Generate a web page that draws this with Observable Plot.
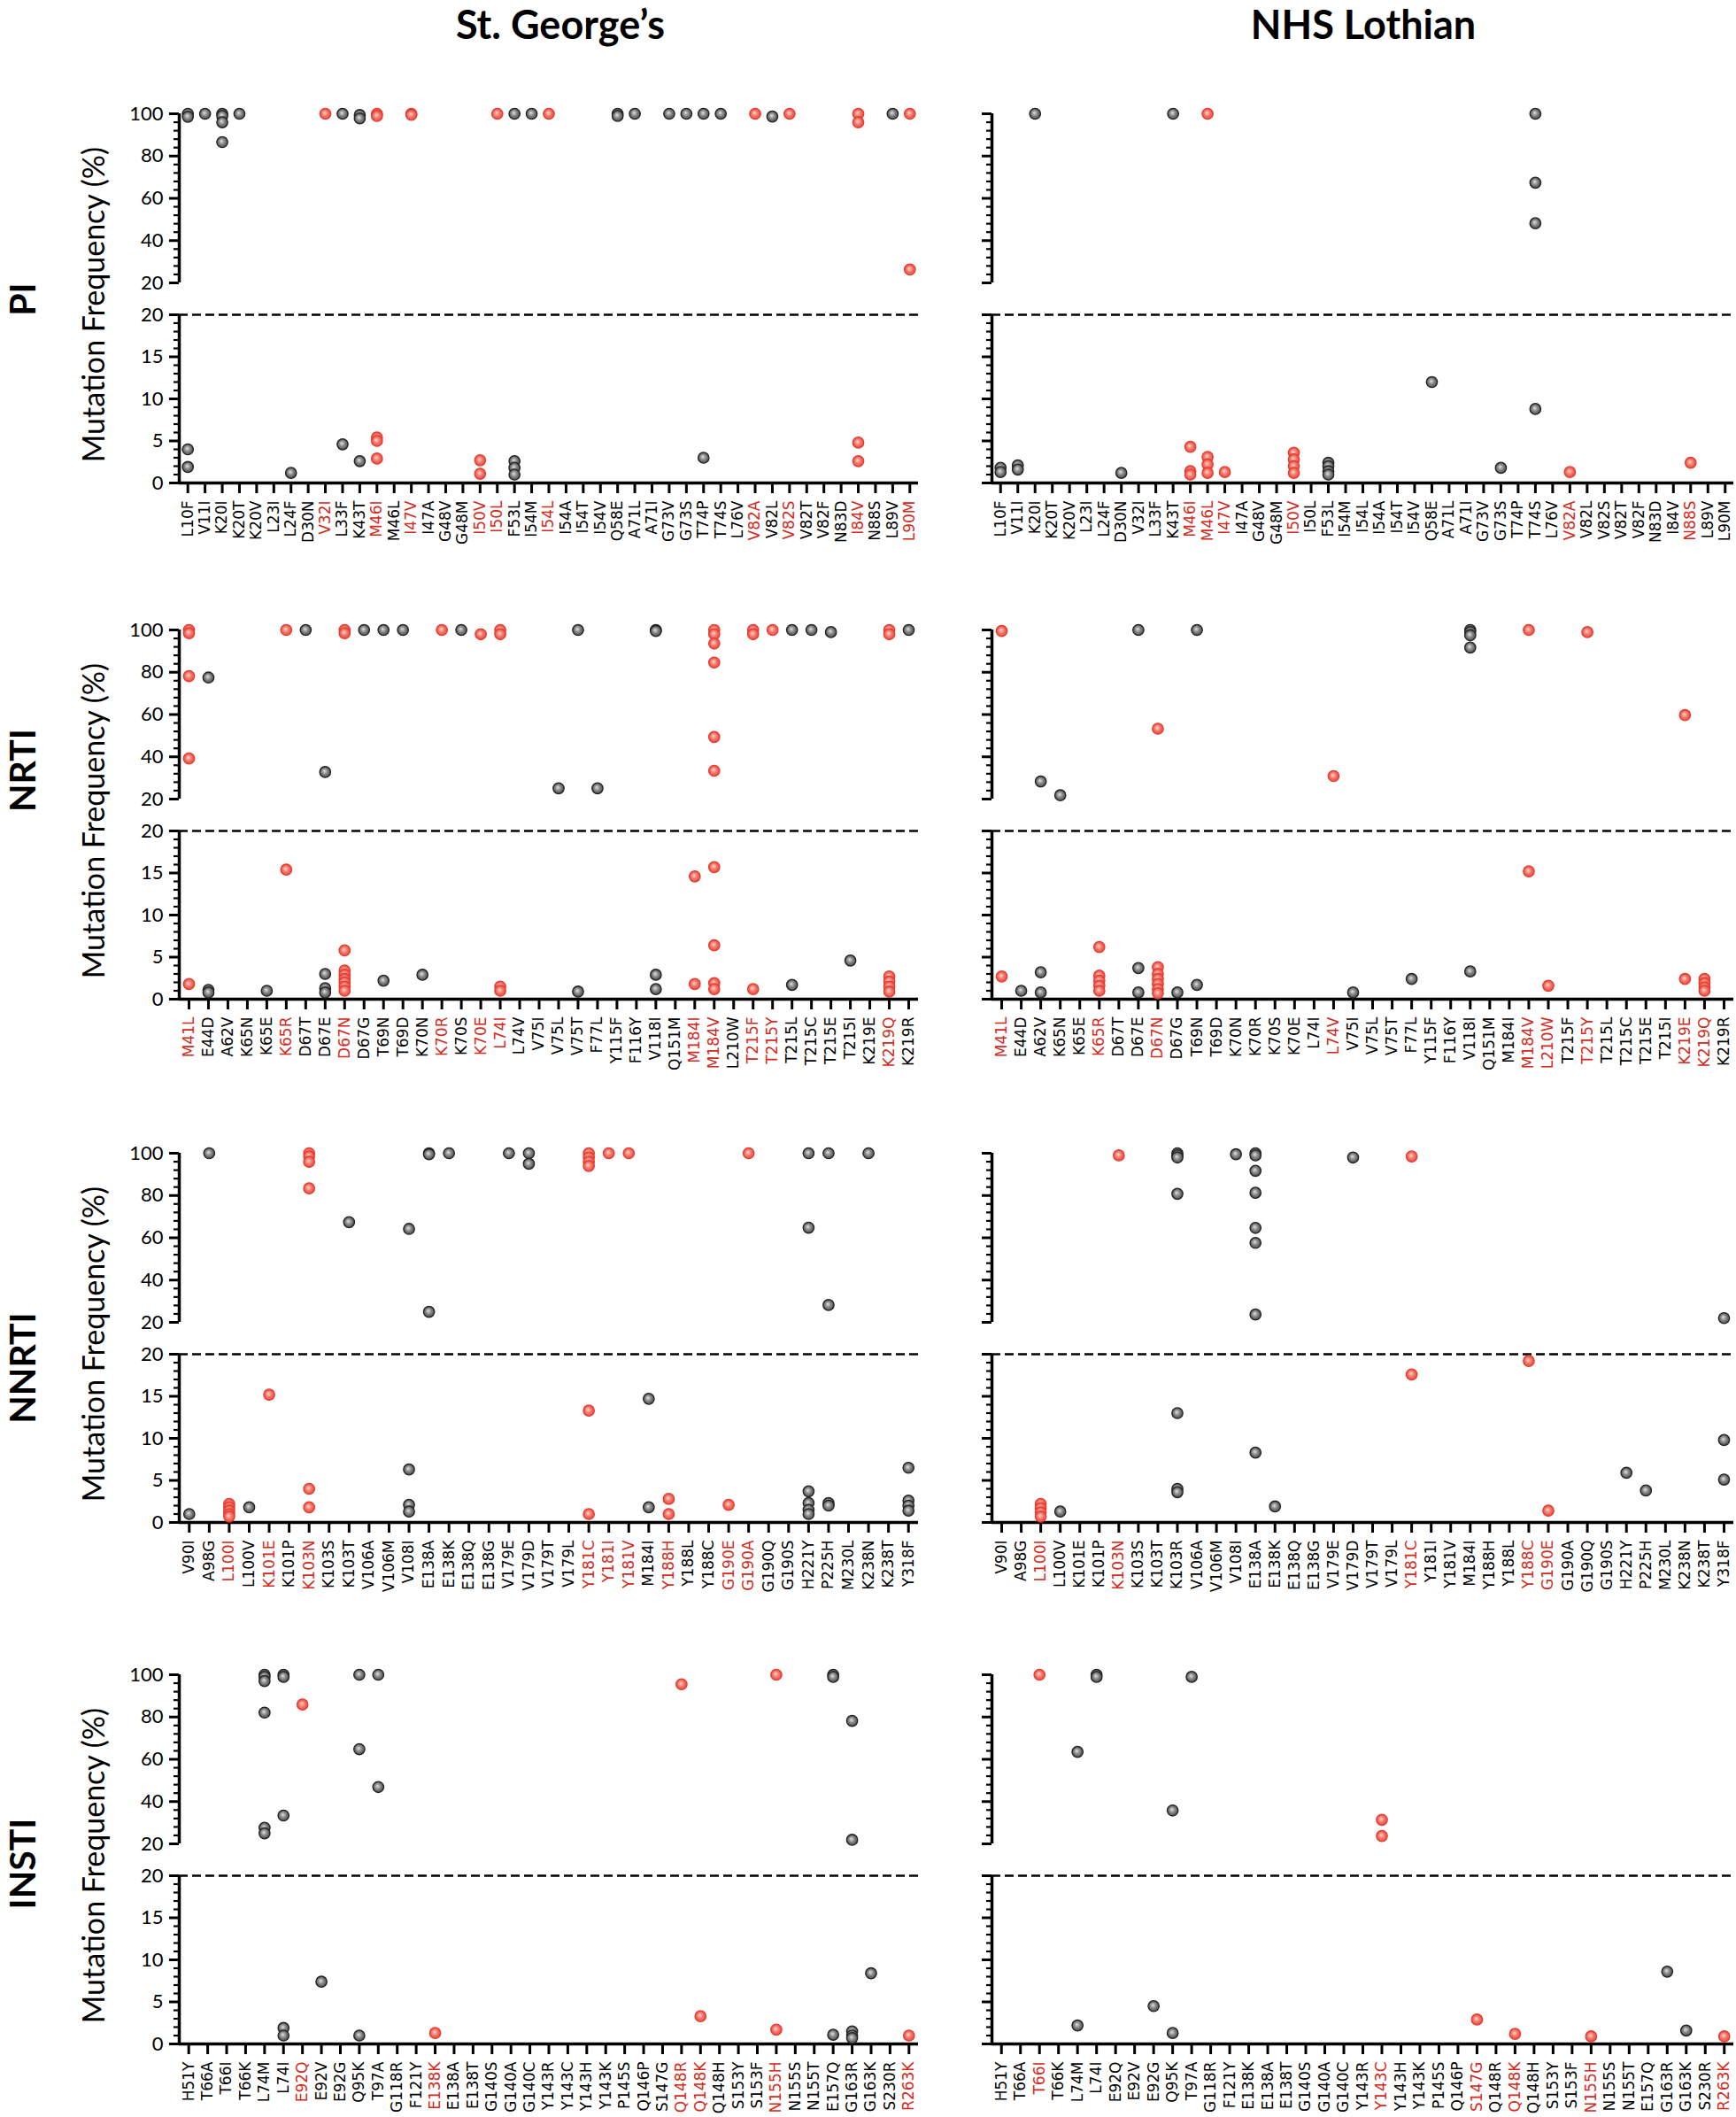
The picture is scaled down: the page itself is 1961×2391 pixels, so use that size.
<!DOCTYPE html>
<html>
<head>
<meta charset="utf-8">
<script src="https://cdn.jsdelivr.net/npm/d3@7"></script>
<script src="https://cdn.jsdelivr.net/npm/@observablehq/plot@0.6"></script>
<style>
  html, body { margin: 0; padding: 0; background: #fff; }
  #page { position: relative; width: 1961px; height: 2391px; background: #fff; overflow: hidden; }
  .panel { position: absolute; }
  #overlay { position: absolute; left: 0; top: 0; }
</style>
</head>
<body>
<div id="page">
  <svg width="0" height="0" style="position:absolute">
    <defs>
      <radialGradient id="gGray" cx="50%" cy="50%" r="55%" fx="42%" fy="40%">
        <stop offset="0%" stop-color="#e2e2e2"/>
        <stop offset="45%" stop-color="#8c8c8c"/>
        <stop offset="100%" stop-color="#3c3c3c"/>
      </radialGradient>
      <radialGradient id="gRed" cx="50%" cy="50%" r="55%" fx="42%" fy="40%">
        <stop offset="0%" stop-color="#ffd6cf"/>
        <stop offset="50%" stop-color="#f3766a"/>
        <stop offset="100%" stop-color="#e4473b"/>
      </radialGradient>
    </defs>
  </svg>
  <svg id="overlay" width="1961" height="2391"></svg>
</div>
<script>
// ---------------- data ----------------
const sites = ["St. George’s", "NHS Lothian"];
const classes = ["PI", "NRTI", "NNRTI", "INSTI"];
const yAxisTitle = "Mutation Frequency (%)";

const upperMajorTicks = [20, 40, 60, 80, 100];
const lowerMajorTicks = [0, 5, 10, 15, 20];
const breakValue = 20;

// ---- PI ----
const piCats = ["L10F","V11I","K20I","K20T","K20V","L23I","L24F","D30N","V32I","L33F","K43T","M46I","M46L","I47V","I47A","G48V","G48M","I50V","I50L","F53L","I54M","I54L","I54A","I54T","I54V","Q58E","A71L","A71I","G73V","G73S","T74P","T74S","L76V","V82A","V82L","V82S","V82T","V82F","N83D","I84V","N88S","L89V","L90M"];
const piRedStG = ["V32I","M46I","I47V","I50V","I50L","I54L","V82A","V82S","I84V","L90M"];
const piRedLoth = ["M46I","M46L","I47V","I50V","V82A","N88S"];
const piStG = [
  ["L10F",[100,98.6,4.0,1.9]], ["V11I",[100]], ["K20I",[100,99,96,86.6]], ["K20T",[100]],
  ["L24F",[1.2]], ["V32I",[100]], ["L33F",[100,4.6]], ["K43T",[99.4,97.8,2.6]],
  ["M46I",[100,99,5.4,5.0,2.9]], ["I47V",[100,99.5]], ["I50V",[2.7,1.1]], ["I50L",[100]],
  ["F53L",[100,2.6,1.8,1.0]], ["I54M",[100]], ["I54L",[100]], ["Q58E",[100,99]],
  ["A71L",[100]], ["G73V",[100]], ["G73S",[100]], ["T74P",[100,3.0]], ["T74S",[100]],
  ["V82A",[100]], ["V82L",[98.7]], ["V82S",[100]], ["I84V",[100,96,4.8,2.6]],
  ["L89V",[100]], ["L90M",[100,26.3]]
];
const piLoth = [
  ["L10F",[1.8,1.3]], ["V11I",[2.1,1.6]], ["K20I",[100]], ["D30N",[1.2]], ["K43T",[100]],
  ["M46I",[4.3,1.4,1.0]], ["M46L",[100,3.1,2.2,1.2]], ["I47V",[1.3]],
  ["I50V",[3.6,2.8,2.0,1.2]], ["F53L",[2.4,2.0,1.4,1.0]], ["Q58E",[12.0]],
  ["G73S",[1.8]], ["T74S",[100,67.4,48.2,8.8]], ["V82A",[1.3]], ["N88S",[2.4]]
];

// ---- NRTI ----
const nrtiCats = ["M41L","E44D","A62V","K65N","K65E","K65R","D67T","D67E","D67N","D67G","T69N","T69D","K70N","K70R","K70S","K70E","L74I","L74V","V75I","V75L","V75T","F77L","Y115F","F116Y","V118I","Q151M","M184I","M184V","L210W","T215F","T215Y","T215L","T215C","T215E","T215I","K219E","K219Q","K219R"];
const nrtiRedStG = ["M41L","K65R","D67N","K70R","K70E","L74I","M184I","M184V","T215F","T215Y","K219Q"];
const nrtiRedLoth = ["M41L","K65R","D67N","L74V","M184V","L210W","T215Y","K219E","K219Q"];
const nrtiStG = [
  ["M41L",[100,98.5,78.2,39.2,1.8]], ["E44D",[77.5,1.1,0.8]], ["K65E",[1.0]], ["K65R",[100,15.4]],
  ["D67T",[100]], ["D67E",[32.8,3.0,1.3,0.8]], ["D67N",[100,98.5,5.8,3.4,2.9,2.4,2.0,1.5,1.0]],
  ["D67G",[100]], ["T69N",[100,2.2]], ["T69D",[100]], ["K70N",[2.9]], ["K70R",[100]],
  ["K70S",[100]], ["K70E",[98]], ["L74I",[100,98,1.5,1.0]], ["V75L",[25.1]], ["V75T",[100,0.9]],
  ["F77L",[25.1]], ["V118I",[100,99.5,2.9,1.2]], ["M184I",[14.6,1.8]],
  ["M184V",[100,98,93.6,84.6,49.4,33.4,15.7,6.4,1.9,1.2]], ["T215F",[100,98,1.2]],
  ["T215Y",[100]], ["T215L",[100,1.7]], ["T215C",[100]], ["T215E",[99]], ["T215I",[4.6]],
  ["K219Q",[100,98,2.7,2.1,1.5,0.9]], ["K219R",[100]]
];
const nrtiLoth = [
  ["M41L",[99.5,2.7]], ["E44D",[1.0]], ["A62V",[28.3,3.2,0.8]], ["K65N",[21.8]],
  ["K65R",[6.2,2.8,2.2,1.6,1.0]], ["D67E",[100,3.7,0.8]], ["D67N",[53.3,3.8,3.0,2.4,1.8,1.2,0.7]],
  ["D67G",[0.8]], ["T69N",[100,1.7]], ["L74V",[30.9]], ["V75I",[0.8]], ["F77L",[2.4]],
  ["V118I",[100,99,97.5,91.7,3.3]], ["M184V",[100,15.2]], ["L210W",[1.6]], ["T215Y",[99]],
  ["K219E",[59.7,2.4]], ["K219Q",[2.4,1.9,1.4,1.0]]
];

// ---- NNRTI ----
const nnrtiCatsStG = ["V90I","A98G","L100I","L100V","K101E","K101P","K103N","K103S","K103T","V106A","V106M","V108I","E138A","E138K","E138Q","E138G","V179E","V179D","V179T","V179L","Y181C","Y181I","Y181V","M184I","Y188H","Y188L","Y188C","G190E","G190A","G190Q","G190S","H221Y","P225H","M230L","K238N","K238T","Y318F"];
const nnrtiCatsLoth = ["V90I","A98G","L100I","L100V","K101E","K101P","K103N","K103S","K103T","K103R","V106A","V106M","V108I","E138A","E138K","E138Q","E138G","V179E","V179D","V179T","V179L","Y181C","Y181I","Y181V","M184I","Y188H","Y188L","Y188C","G190E","G190A","G190Q","G190S","H221Y","P225H","M230L","K238N","K238T","Y318F"];
const nnrtiRedStG = ["L100I","K101E","K103N","Y181C","Y181I","Y181V","Y188H","G190E","G190A"];
const nnrtiRedLoth = ["L100I","K103N","Y181C","Y188C","G190E"];
const nnrtiStG = [
  ["V90I",[1.0]], ["A98G",[100]], ["L100I",[2.2,1.8,1.4,1.0,0.7]], ["L100V",[1.8]],
  ["K101E",[15.2]], ["K103N",[100,98.5,96,83.4,4.0,1.8]], ["K103T",[67.4]],
  ["V108I",[64.2,6.3,2.1,1.3]], ["E138A",[100,99.5,25.0]], ["E138K",[100]],
  ["V179E",[100]], ["V179D",[100,95]], ["Y181C",[100,98,96,94,13.3,1.0]],
  ["Y181I",[100]], ["Y181V",[100]], ["M184I",[14.7,1.8]], ["Y188H",[2.8,1.0]],
  ["G190E",[2.1]], ["G190A",[100]], ["H221Y",[100,64.8,3.7,2.3,1.5,1.0]],
  ["P225H",[100,28.2,2.3,2.0]], ["K238N",[100]], ["Y318F",[6.5,2.6,2.0,1.4]]
];
const nnrtiLoth = [
  ["L100I",[2.2,1.7,1.2,0.7]], ["L100V",[1.3]], ["K103N",[99]],
  ["K103R",[100,99,98,80.8,13.0,4.0,3.6]], ["V108I",[99.5]],
  ["E138A",[100,99,91.7,81.3,64.7,57.6,23.7,8.3]], ["E138K",[1.9]], ["V179D",[98]],
  ["Y181C",[98.5,17.6]], ["Y188C",[19.2]], ["G190E",[1.4]], ["H221Y",[5.9]],
  ["P225H",[3.8]], ["Y318F",[22.0,9.8,5.1]]
];

// ---- INSTI ----
const instiCats = ["H51Y","T66A","T66I","T66K","L74M","L74I","E92Q","E92V","E92G","Q95K","T97A","G118R","F121Y","E138K","E138A","E138T","G140S","G140A","G140C","Y143R","Y143C","Y143H","Y143K","P145S","Q146P","S147G","Q148R","Q148K","Q148H","S153Y","S153F","N155H","N155S","N155T","E157Q","G163R","G163K","S230R","R263K"];
const instiRedStG = ["E92Q","E138K","Q148R","Q148K","N155H","R263K"];
const instiRedLoth = ["T66I","Y143C","S147G","Q148K","N155H","R263K"];
const instiStG = [
  ["L74M",[100,99,97,82.1,27.6,25.0]], ["L74I",[100,99,33.4,1.9,1.0]], ["E92Q",[85.9]],
  ["E92V",[7.4]], ["Q95K",[100,64.8,1.0]], ["T97A",[100,46.9]], ["E138K",[1.3]],
  ["Q148R",[95.5]], ["Q148K",[3.3]], ["N155H",[100,1.7]], ["E157Q",[100,99,1.1]],
  ["G163R",[78.2,21.9,1.5,1.0,0.7]], ["G163K",[8.4]], ["R263K",[1.0]]
];
const instiLoth = [
  ["T66I",[100]], ["L74M",[63.5,2.2]], ["L74I",[100,99]], ["E92G",[4.5]],
  ["Q95K",[35.8,1.3]], ["T97A",[99]], ["Y143C",[31.4,23.7]], ["S147G",[2.9]],
  ["Q148K",[1.2]], ["N155H",[0.9]], ["G163R",[8.6]], ["G163K",[1.6]], ["R263K",[0.9]]
];

// ---------------- drawing ----------------
const RED_TEXT = "#d42a20";
const rowTops = [128, 711, 1302, 1891];
const rowLabelY = [338, 870, 1545, 2105];
const panels = [
  [[piCats, piRedStG, piStG], [piCats, piRedLoth, piLoth]],
  [[nrtiCats, nrtiRedStG, nrtiStG], [nrtiCats, nrtiRedLoth, nrtiLoth]],
  [[nnrtiCatsStG, nnrtiRedStG, nnrtiStG], [nnrtiCatsLoth, nnrtiRedLoth, nnrtiLoth]],
  [[instiCats, instiRedStG, instiStG], [instiCats, instiRedLoth, instiLoth]]
];
const UPPER_H = 191, GAP = 36, LOWER_H = 190;

function minorTicks(lo, hi, step, majorStep) {
  const out = [];
  for (let v = lo; v <= hi + 1e-9; v += step) {
    if (Math.abs(v / majorStep - Math.round(v / majorStep)) > 1e-6) out.push(v);
  }
  return out;
}
const fontNum = "Lato, 'Open Sans', sans-serif";

function dots(pts) {
  return [
    Plot.dot(pts.filter(p => !p.red), {x: "i", y: "v", r: 6.2, fill: "url(#gGray)", stroke: "#222", strokeWidth: 1.3}),
    Plot.dot(pts.filter(p => p.red), {x: "i", y: "v", r: 6.2, fill: "url(#gRed)", stroke: "#e8392d", strokeWidth: 1.3})
  ];
}

function buildUpper(cats, pts, g) {
  const n = cats.length;
  const fmt = g.labels ? (d => String(d)) : (() => "");
  return Plot.plot({
    width: g.w, height: 20 + UPPER_H + 6,
    marginLeft: g.ml, marginRight: g.mr, marginTop: 20, marginBottom: 6,
    x: {domain: [-0.5, n - 0.5], axis: null},
    y: {domain: [breakValue, 100]},
    style: {background: "transparent", overflow: "visible"},
    marks: [
      Plot.ruleX([-0.5], {y1: breakValue, y2: 100, stroke: "#000", strokeWidth: 3.5}),
      Plot.axisY({ticks: upperMajorTicks, anchor: "left", tickSize: 11, tickPadding: 7, strokeWidth: 3,
        tickFormat: fmt, label: null, fontSize: 22, fontFamily: fontNum, fill: "#000"}),
      Plot.axisY({ticks: minorTicks(20, 100, 4, 20), anchor: "left", tickSize: 6, strokeWidth: 2.2,
        tickFormat: () => "", label: null}),
      ...dots(pts.filter(p => p.v >= breakValue))
    ]
  });
}

function buildLower(cats, red, pts, g) {
  const n = cats.length;
  const fmt = g.labels ? (d => String(d)) : (() => "");
  return Plot.plot({
    width: g.w, height: 10 + LOWER_H + 103,
    marginLeft: g.ml, marginRight: g.mr, marginTop: 10, marginBottom: 103,
    x: {domain: [-0.5, n - 0.5]},
    y: {domain: [0, breakValue]},
    style: {background: "transparent", overflow: "visible"},
    marks: [
      Plot.ruleY([breakValue], {x1: -0.5, x2: n - 0.5, stroke: "#000", strokeWidth: 2.5, strokeDasharray: "10,5"}),
      Plot.ruleX([-0.5], {y1: 0, y2: breakValue, stroke: "#000", strokeWidth: 3.5}),
      Plot.ruleY([0], {x1: -0.5, x2: n - 0.5, stroke: "#000", strokeWidth: 3.5}),
      Plot.axisY({ticks: lowerMajorTicks, anchor: "left", tickSize: 11, tickPadding: 7, strokeWidth: 3,
        tickFormat: fmt, label: null, fontSize: 22, fontFamily: fontNum, fill: "#000"}),
      Plot.axisY({ticks: minorTicks(0, 20, 1, 5), anchor: "left", tickSize: 6, strokeWidth: 2.2,
        tickFormat: () => "", label: null}),
      Plot.axisX({ticks: d3.range(n), anchor: "bottom", tickSize: 12, strokeWidth: 3,
        tickFormat: () => "", label: null}),
      Plot.text(cats, {x: (d, i) => i, y: 0, text: d => d, rotate: -90, textAnchor: "end", dy: 20,
        fill: d => red.includes(d) ? RED_TEXT : "#000", fontSize: 17, fontFamily: "DejaVu Sans"}),
      ...dots(pts.filter(p => p.v < breakValue))
    ]
  });
}

const page = document.getElementById("page");
const colGeom = [
  {left: 95, w: 945, ml: 107, mr: 3, labels: true},
  {left: 1075, w: 886, ml: 45, mr: 3, labels: false}
];
function place(el, left, top) {
  const wrap = document.createElement("div");
  wrap.className = "panel";
  wrap.style.left = left + "px";
  wrap.style.top = top + "px";
  wrap.appendChild(el);
  page.appendChild(wrap);
}
panels.forEach((row, r) => {
  row.forEach(([cats, red, data], c) => {
    const g = colGeom[c];
    const idx = new Map(cats.map((d, i) => [d, i]));
    const pts = data.flatMap(([m, vals]) => vals.map(v => ({i: idx.get(m), v, red: red.includes(m)})));
    const T = rowTops[r];
    place(buildUpper(cats, pts, g), g.left, T - 20);
    place(buildLower(cats, red, pts, g), g.left, T + UPPER_H + GAP - 10);
  });
});

// titles & labels overlay
const ov = d3.select("#overlay");
const titleX = [633, 1540];
sites.forEach((s, i) => {
  ov.append("text").attr("x", titleX[i]).attr("y", 44).attr("text-anchor", "middle")
    .attr("font-family", "Lato, sans-serif").attr("font-weight", 700).attr("font-size", 45).text(s);
});
classes.forEach((s, r) => {
  ov.append("text").attr("transform", `translate(40,${rowLabelY[r]}) rotate(-90)`)
    .attr("text-anchor", "middle")
    .attr("font-family", "Lato, sans-serif").attr("font-weight", 700).attr("font-size", 41).text(s);
  ov.append("text").attr("transform", `translate(118,${rowTops[r] + 216}) rotate(-90)`)
    .attr("text-anchor", "middle")
    .attr("font-family", "Lato, sans-serif").attr("font-size", 34).text(yAxisTitle);
});
</script>
</body>
</html>
